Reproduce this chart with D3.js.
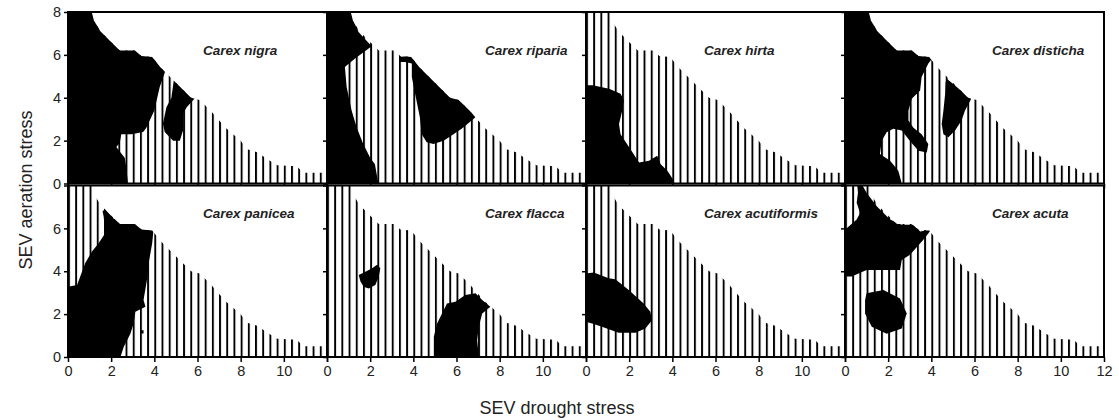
<!DOCTYPE html>
<html>
<head>
<meta charset="utf-8">
<script src="https://cdn.jsdelivr.net/npm/d3@7"></script>
<style>
  body { margin: 0; background: #fff; }
  text { font-family: Arial, "Liberation Sans", sans-serif; }
</style>
</head>
<body>
<div id="chart"></div>
<script>
// species shown in the 2 x 4 grid, row by row
var species = ["Carex nigra", "Carex riparia", "Carex hirta", "Carex disticha",
               "Carex panicea", "Carex flacca", "Carex acutiformis", "Carex acuta"];

var xTicks = [0, 2, 4, 6, 8, 10, 12];
var yTicks = [0, 2, 4, 6, 8];

// upper limit of observed conditions (hatched area), drought vs aeration SEV
var envelope = [[0, 8], [1.1, 8], [1.2, 7.6], [1.5, 7.1], [2.1, 6.5], [2.4, 6.2], [3.1, 6.2],
                [3.4, 5.95], [3.9, 5.9], [4.3, 5.4], [5.0, 4.7], [5.7, 4.0], [6.1, 3.9],
                [6.6, 3.4], [7.3, 2.6], [8.0, 2.0], [8.3, 1.6], [8.8, 1.45], [9.2, 1.15],
                [9.7, 0.85], [10.6, 0.8], [10.9, 0.5], [12, 0.5]];

// black areas = where the species occurs (outline points)
var nigraBlobs = [
  [[0, 8.2], [1.3, 8.2], [2.4, 6.6], [4.0, 6.2], [4.6, 5.5], [4.25, 4.5], [4.0, 3.4], [3.63, 2.6],
   [3.48, 2.4], [2.94, 2.3], [2.47, 2.3], [2.4, 1.9], [2.24, 1.7], [2.47, 1.4], [2.63, 1.2],
   [2.7, 0.75], [2.78, 0], [0, 0]],
  [[5.02, 4.9], [5.9, 4.0], [5.5, 3.56], [5.33, 3.25], [5.33, 2.47], [5.18, 2.0], [4.87, 2.0],
   [4.48, 2.4], [4.4, 2.8], [4.56, 3.56], [4.79, 4.0], [4.9, 4.8]]
];
var ripariaBlobs = [
  [[0, 8.2], [1.2, 8.2], [1.22, 7.6], [1.45, 7.08], [2.07, 6.4], [1.3, 5.83], [0.91, 5.5],
   [0.83, 5.44], [0.91, 4.5], [1.14, 3.4], [1.38, 2.6], [1.68, 1.84], [2.0, 1.2], [2.22, 0.9],
   [2.38, 0], [0, 0]],
  [[3.38, 5.9], [3.9, 6.0], [7.0, 3.2], [6.3, 2.6], [5.86, 2.3], [5.4, 2.0], [4.93, 1.84],
   [4.62, 1.92], [4.39, 2.3], [4.3, 3.1], [4.08, 4.2], [3.93, 4.97], [3.93, 5.6], [3.62, 5.67],
   [3.38, 5.67]]
];
var hirtaBlobs = [
  [[0, 4.58], [0.3, 4.58], [1.07, 4.42], [1.6, 4.19], [1.76, 3.88], [1.68, 3.4], [1.53, 2.78],
   [1.6, 2.3], [2.0, 1.69], [2.46, 0.98], [2.92, 1.06], [3.3, 1.3], [3.46, 0.9], [3.77, 0.59],
   [4.08, 0.12], [4.08, 0], [0, 0]]
];
var distichaBlobs = [
  [[0, 8.2], [1.2, 8.2], [2.55, 6.4], [3.48, 6.1], [4.1, 5.9], [3.86, 5.6], [3.55, 4.97],
   [3.48, 4.34], [3.09, 3.95], [2.94, 3.4], [2.94, 2.94], [3.17, 2.6], [3.55, 2.3], [3.86, 1.84],
   [3.79, 1.45], [3.4, 1.53], [3.0, 2.0], [2.63, 2.47], [2.24, 2.55], [1.93, 2.39], [1.7, 2.0],
   [1.62, 1.38], [2.09, 1.06], [2.47, 0.59], [2.63, 0], [0, 0]],
  [[4.7, 4.9], [5.85, 3.95], [5.56, 3.4], [5.4, 2.94], [5.1, 2.47], [4.79, 2.16], [4.56, 2.3],
   [4.48, 2.78], [4.56, 3.4], [4.64, 4.19], [4.66, 4.7]]
];
var paniceaBlobs = [
  [[1.6, 6.8], [1.73, 6.9], [2.12, 6.45], [3.12, 6.3], [3.59, 6.05], [3.97, 6.0], [3.9, 5.31],
   [3.74, 4.38], [3.66, 3.6], [3.5, 2.66], [3.59, 2.34], [3.12, 2.11], [3.04, 1.56], [2.89, 1.09],
   [2.58, 0.47], [2.43, 0], [0, 0], [0, 3.28], [0.42, 3.36], [0.8, 4.38], [1.11, 4.92],
   [1.42, 5.31], [1.73, 5.78], [1.65, 6.56]],
  [[3.35, 1.25], [3.5, 1.25], [3.5, 1.1], [3.35, 1.1]]
];
var flaccaBlobs = [
  [[1.47, 3.83], [1.78, 3.98], [2.09, 4.14], [2.32, 4.3], [2.47, 4.14], [2.4, 3.75], [2.24, 3.36],
   [1.93, 3.2], [1.7, 3.28], [1.55, 3.52]],
  [[4.95, 0], [4.95, 0.94], [5.1, 1.56], [5.33, 2.03], [5.56, 2.5], [5.95, 2.58], [6.41, 2.89],
   [6.88, 2.97], [7.19, 2.66], [7.57, 2.34], [7.19, 2.03], [7.03, 1.41], [6.96, 0.78], [7.03, 0]]
];
var acutiformisBlobs = [
  [[0, 3.9], [0.36, 3.94], [1.05, 3.67], [1.36, 3.63], [1.98, 3.13], [2.67, 2.5], [2.98, 2.11],
   [3.06, 1.72], [2.75, 1.33], [2.29, 1.13], [1.51, 1.13], [0.74, 1.41], [0.28, 1.56], [0, 1.64]]
];
var acutaBlobs = [
  [[0.7, 8.2], [1.0, 7.66], [1.47, 7.03], [2.09, 6.41], [2.63, 6.17], [3.17, 6.17], [3.48, 5.86],
   [4.0, 5.95], [3.63, 5.47], [3.01, 4.77], [2.63, 4.53], [2.55, 4.06], [1.78, 4.06], [1.0, 4.06],
   [0.31, 3.75], [0, 3.75], [0, 5.94], [0.54, 6.41], [0.7, 6.72], [0.54, 7.19], [0.6, 7.66],
   [0.55, 8.2]],
  [[1.0, 2.97], [1.78, 3.13], [2.55, 2.73], [2.86, 2.03], [2.63, 1.33], [1.93, 1.09], [1.24, 1.41],
   [0.93, 2.03], [0.93, 2.66]]
];

var blobs = [nigraBlobs, ripariaBlobs, hirtaBlobs, distichaBlobs,
             paniceaBlobs, flaccaBlobs, acutiformisBlobs, acutaBlobs];

// layout
var w = 1119, h = 420;
var left = 68, pw = 259, ph = 171.5;
var rowTop = [12, 185.5];
var titleDx = [135, 158, 118, 147];   // title start inside each column
var titleDy = [43, 32];               // title baseline below panel top

var x = d3.scaleLinear().domain([0, 12]).range([0, pw]);
var y = d3.scaleLinear().domain([0, 8]).range([ph, 0]);

var svg = d3.select("#chart").append("svg")
            .attr("width", w)
            .attr("height", h);

var defs = svg.append("defs");
var step = x(1 / 3) - x(0);
var pat = defs.append("pattern")
              .attr("id", "hatch")
              .attr("patternUnits", "userSpaceOnUse")
              .attr("width", step)
              .attr("height", 10);
pat.append("rect").attr("x", 0).attr("y", 0).attr("width", 1.9).attr("height", 10).attr("fill", "#000");

var area = d3.area()
             .x(function(d) { return x(d[0]); })
             .y0(y(0))
             .y1(function(d) { return y(d[1]); });

var line = d3.line()
             .x(function(d) { return x(d[0]); })
             .y(function(d) { return y(d[1]); })
             .curve(d3.curveLinearClosed);

// blobs only show inside the observed envelope
defs.append("clipPath").attr("id", "envClip")
    .append("path").attr("d", area(envelope));

species.forEach(function(name, i) {
  var col = i % 4, row = Math.floor(i / 4);
  var g = svg.append("g")
             .attr("transform", "translate(" + (left + col * pw) + "," + rowTop[row] + ")");

  g.append("rect").attr("width", pw).attr("height", ph).attr("fill", "#fff");

  g.append("path")
   .attr("d", area(envelope))
   .attr("fill", "url(#hatch)");

  g.append("g")
   .attr("clip-path", "url(#envClip)")
   .selectAll("path")
   .data(blobs[i])
   .enter()
   .append("path")
   .attr("d", line)
   .attr("fill", "#000");

  g.append("text")
   .attr("x", titleDx[col])
   .attr("y", titleDy[row])
   .attr("font-size", 13.5)
   .attr("font-style", "italic")
   .attr("font-weight", "bold")
   .attr("fill", "#222")
   .text(name);

  // axes
  var xAxis = d3.axisBottom(x).tickValues(xTicks).tickSize(5).tickPadding(4)
                .tickFormat(function(d) {
                  if (row == 0) return "";
                  if (d == 12 && col < 3) return "";
                  return d;
                });
  var yAxis = d3.axisLeft(y).tickValues(yTicks).tickSize(4).tickPadding(3)
                .tickFormat(function(d) {
                  if (col > 0) return "";
                  if (row == 1 && d == 8) return "";
                  return d;
                });

  g.append("g").attr("transform", "translate(0," + ph + ")").call(xAxis);
  g.append("g").call(yAxis);
  if (col < 3) {
    g.append("g").attr("transform", "translate(" + pw + ",0)")
     .call(d3.axisRight(y).tickValues(yTicks.slice(1, 4)).tickSize(4).tickFormat(""));
  }
  g.selectAll(".domain").remove();
  g.selectAll(".tick line").attr("stroke", "#000").attr("stroke-width", 1.5);
  g.selectAll(".tick text").attr("font-size", 14.5).attr("fill", "#222")
   .attr("font-family", "Arial, 'Liberation Sans', sans-serif");

  g.append("rect")
   .attr("width", pw).attr("height", ph)
   .attr("fill", "none")
   .attr("stroke", "#000")
   .attr("stroke-width", 2);
});

svg.append("text")
   .attr("x", 557)
   .attr("y", 414)
   .attr("text-anchor", "middle")
   .attr("font-size", 18)
   .attr("fill", "#222")
   .text("SEV drought stress");

svg.append("text")
   .attr("transform", "translate(32,190) rotate(-90)")
   .attr("text-anchor", "middle")
   .attr("font-size", 18)
   .attr("fill", "#222")
   .text("SEV aeration stress");
</script>
</body>
</html>
